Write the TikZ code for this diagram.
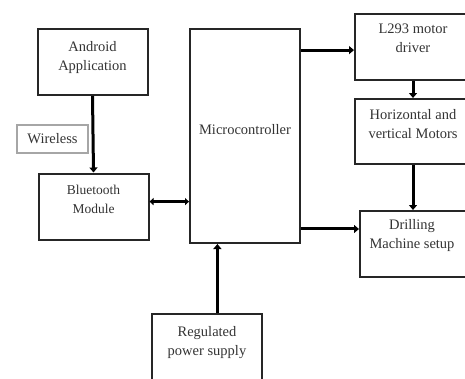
\documentclass[tikz,border=0pt]{standalone}
\usepackage{fontspec}
\setmainfont{Liberation Serif}
\usetikzlibrary{positioning,arrows.meta}
\tikzset{
  bloc/.style={draw=black!85, line width=2pt, minimum width=110pt, minimum height=66pt, inner sep=0pt},
  texte/.style={font=\fontsize{14.5}{19}\selectfont, align=center, inner sep=0pt, text=black!80},
  fleche/.style={line width=3pt, -{Triangle[length=5pt,width=8pt]}},
}
\begin{document}
\begin{tikzpicture}[x=1pt,y=-1pt]
  \useasboundingbox (0,0) rectangle (465,378);

  % Blocs (le cadre coupe ceux de droite et du bas)
  \node[bloc] (android) at (92.5,62) {};
  \node[bloc] (bluetooth) at (93.5,206.5) {};
  \node[bloc, minimum height=214pt] (micro) at (245,136) {};
  \node[bloc, minimum width=116pt] (l293) at (413,47) {};
  \node[bloc, minimum width=116pt, minimum height=65pt] (moteurs) at (413,131.5) {};
  \node[bloc] (perceuse) at (415,244) {};
  \node[bloc] (alim) at (207,347) {};
  \node[draw=gray!70, line width=1.3pt, minimum width=71pt, minimum height=28pt, texte] (wireless) at (52.5,139) {Wireless};

  % Textes des blocs
  \node[texte, below=13pt of android.north] (tandroid) {Android\\Application};
  \node[texte, below=12pt of bluetooth.north, font=\fontsize{13.5}{19}\selectfont] (tbluetooth) {Bluetooth\\Module};
  \node[texte, below=96pt of micro.north] (tmicro) {Microcontroller};
  \node[texte, below=11pt of l293.north] (tl293) {L293 motor\\driver};
  \node[texte, below=11pt of moteurs.north] (tmoteurs) {Horizontal and\\vertical Motors};
  \node[texte, below=9pt of perceuse.north, xshift=-3pt] (tperceuse) {Drilling\\Machine setup};
  \node[texte, below=13pt of alim.north] (talim) {Regulated\\power supply};

  % Liaisons
  \draw[fleche] (android.south) -- (bluetooth.north);
  \draw[fleche, {Triangle[length=4pt,width=7pt]}-{Triangle[length=4pt,width=7pt]}] (bluetooth.5) -- (bluetooth.5 -| micro.west);
  \draw[fleche] (alim.73) -- (alim.73 |- micro.south);
  \draw[fleche] (micro.east |- l293.183) -- (l293.183);
  \draw[fleche] (l293.south) -- (moteurs.north);
  \draw[fleche] (moteurs.south) -- (moteurs.south |- perceuse.north);
  \draw[fleche] (micro.east |- perceuse.165) -- (perceuse.165);
\end{tikzpicture}
\end{document}
